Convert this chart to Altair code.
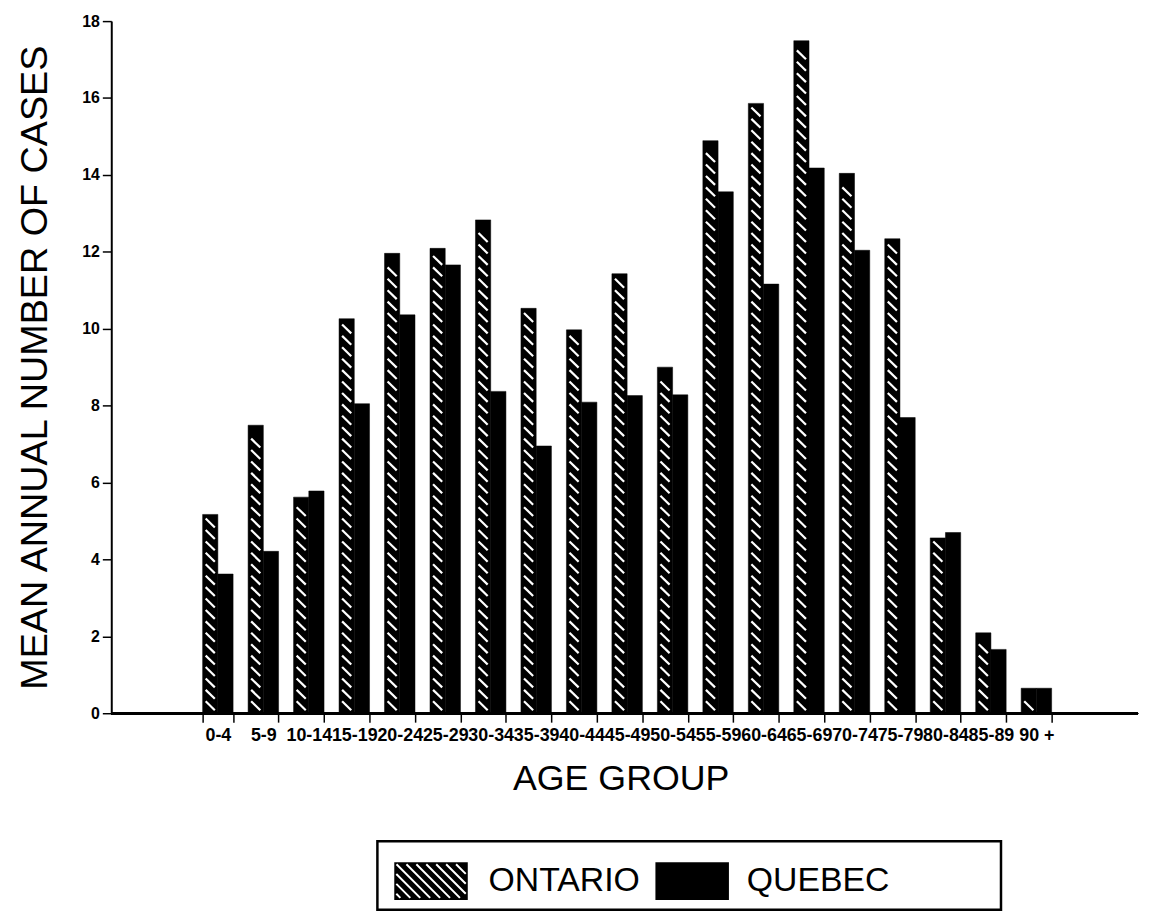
import altair as alt
import pandas as pd
import numpy as np

age_groups = ["0-4", "5-9", "10-14", "15-19", "20-24", "25-29", "30-34", "35-39",
              "40-44", "45-49", "50-54", "55-59", "60-64", "65-69", "70-74", "75-79",
              "80-84", "85-89", "90 +"]
ontario = [5.17, 7.49, 5.62, 10.26, 11.96, 12.09, 12.83, 10.53, 9.97, 11.43,
           9.0, 14.89, 15.86, 17.49, 14.04, 12.34, 4.56, 2.09, 0.65]
quebec = [3.62, 4.21, 5.78, 8.05, 10.36, 11.66, 8.37, 6.95, 8.09, 8.26,
          8.28, 13.56, 11.16, 14.18, 12.04, 7.69, 4.70, 1.66, 0.65]
series = ["ONTARIO", "QUEBEC"]
y_ticks = [0, 2, 4, 6, 8, 10, 12, 14, 16, 18]

rows = []
for a, o, q in zip(age_groups, ontario, quebec):
    rows.append({"age": a, "series": "ONTARIO", "cases": o})
    rows.append({"age": a, "series": "QUEBEC", "cases": q})
df = pd.DataFrame(rows)

SANS = "Liberation Sans, Arial"
X_TITLE = "AGE GROUP"
Y_TITLE = "MEAN ANNUAL NUMBER OF CASES"

W, H = 1034, 697
x_scale = alt.Scale(domain=age_groups, paddingInner=0.33, paddingOuter=0, range=[92, 947])
y_scale = alt.Scale(domain=[0, 18], nice=False)

x_axis = alt.Axis(
    labelAngle=0, labelFont=SANS, labelFontWeight="bold",
    labelFontSize=18, labelColor="black", labelPadding=4, labelOverlap=False,
    tickBand="extent", tickSize=9, tickWidth=1.5, tickColor="black",
    domain=False, titleFont=SANS, titleFontSize=36, titleX=513,
    titleFontWeight="normal", titleColor="black", titlePadding=18,
)
y_axis = alt.Axis(
    values=y_ticks, labelFont=SANS,
    labelFontWeight="bold", labelFontSize=16, labelColor="black", labelPadding=3,
    tickSize=9, tickWidth=1.5, tickColor="black", domainColor="black",
    domainWidth=2, grid=False, titleFont=SANS, titleFontSize=38,
    titleFontWeight="normal", titleColor="black", titlePadding=27,
)

bars = alt.Chart(df).mark_bar(color="black", stroke="black", strokeWidth=0.5).encode(
    x=alt.X("age:N", scale=x_scale, axis=x_axis, title=X_TITLE),
    xOffset=alt.XOffset("series:N", scale=alt.Scale(domain=series)),
    y=alt.Y("cases:Q", scale=y_scale, axis=y_axis, title=Y_TITLE),
)

# baseline (x axis line across the whole plot width)
baseline = alt.Chart(df).mark_rule(color="black", strokeWidth=2).encode(
    y=alt.Y(datum=0, scale=y_scale, axis=y_axis, title=Y_TITLE),
    x=alt.value(0), x2=alt.value(W),
)

# white diagonal hatch for the Ontario bars
hatch = (
    alt.Chart(df)
    .transform_filter(alt.datum.series == "ONTARIO")
    .transform_calculate(k="sequence(0, floor((datum.cases - 0.39) / 0.297) + 1)")
    .transform_flatten(["k"])
    .transform_calculate(y1="0.31 + datum.k * 0.297", y2="0.078 + datum.k * 0.297")
    .mark_rule(color="white", strokeWidth=2.2, strokeCap="butt")
    .encode(
        x=alt.X("age:N", bandPosition=0.1, scale=x_scale, axis=x_axis, title=X_TITLE),
        x2=alt.X2("age", bandPosition=0.4),
        y=alt.Y("y1:Q", scale=y_scale, axis=y_axis, title=Y_TITLE),
        y2="y2:Q",
    )
)

# legend symbols (custom SVG paths; unit = 34 px)
def swatch(cx, hatched):
    hw, hh = 1.118, 0.588
    x0, x1 = cx - hw, cx + hw
    p = f"M{x0:.3f},{-hh:.3f}H{x1:.3f}V{hh:.3f}H{x0:.3f}Z"
    if hatched:
        ins = 0.09
        ix0, ix1, iy0, iy1 = x0 + ins, x1 - ins, -hh + ins, hh - ins
        for c in np.arange(ix0 - iy1 + 0.12, ix1 - iy0, 0.294):
            xs = max(ix0, c + iy0)
            xe = min(ix1, c + iy1)
            if xe - xs > 0.05:
                p += f"M{xs:.3f},{xs - c:.3f}L{xe:.3f},{xe - c:.3f}"
    return p

path_ont = swatch(0.412, True)
path_que = swatch(0.50, False)
path_blank = "M0,0Z"

# a blank third entry only widens the legend frame to the right
legend_domain = series + ["blank"]

leg = alt.Legend(
    title=None, orient="none", legendX=268, legendY=826, direction="horizontal",
    symbolSize=4624, symbolStrokeWidth=2,
    labelFont=SANS, labelFontSize=34, labelColor="black", labelOffset=37,
    columnPadding=-8, padding=5, strokeColor="black", fillColor="white",
    labelLimit=600,
    labelExpr="datum.label == 'blank' ? '' : datum.label",
)

legend_layer = (
    alt.Chart(df)
    .transform_filter("false")
    .mark_point(filled=True, opacity=1, strokeWidth=2)
    .encode(
        fill=alt.Fill("series:N", scale=alt.Scale(domain=legend_domain, range=["black", "black", "white"]), legend=leg),
        stroke=alt.Stroke("series:N", scale=alt.Scale(domain=legend_domain, range=["white", "white", "white"]), legend=leg),
        shape=alt.Shape("series:N", scale=alt.Scale(domain=legend_domain, range=[path_ont, path_que, path_blank]), legend=leg),
    )
)

chart = (
    alt.layer(bars, hatch, baseline, legend_layer)
    .properties(
        width=W, height=H,
        autosize=alt.AutoSizeParams(type="none"),
        padding={"left": 104, "top": 10, "right": 4, "bottom": 199},
        background="white",
    )
    .configure_view(stroke=None)
    .configure_legend(strokeWidth=2.5)
)

chart.save("out.html", embed_options={"renderer": "svg", "actions": False})
